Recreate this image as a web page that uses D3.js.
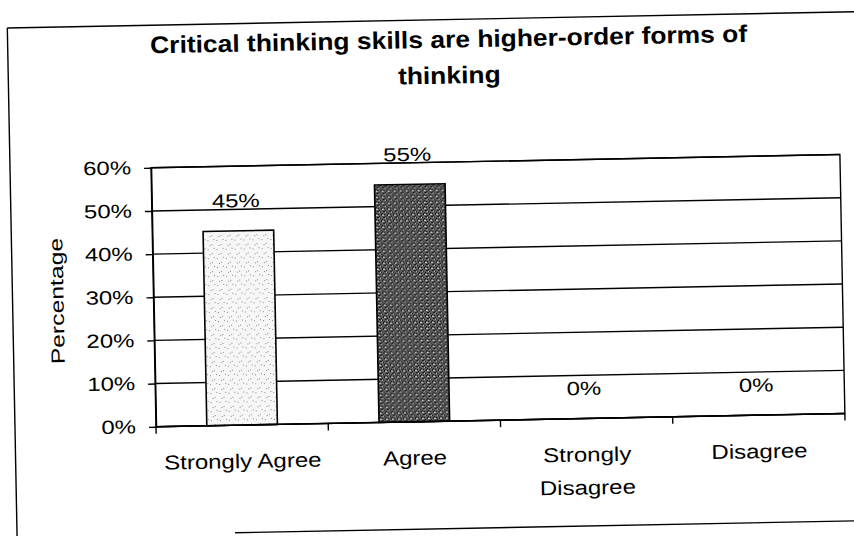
<!DOCTYPE html>
<html>
<head>
<meta charset="utf-8">
<script src="https://cdn.jsdelivr.net/npm/d3@7/dist/d3.min.js"></script>
<style>
  html, body { margin: 0; padding: 0; background: #fff; }
  svg { display: block; }
  text { font-family: "Liberation Sans", Arial, sans-serif; fill: #000; }
</style>
</head>
<body>
<svg id="chart" width="854" height="536"></svg>
<script>
// ---- data ----
const titleLines = ["Critical thinking skills are higher-order forms of", "thinking"];
const categories = ["Strongly Agree", "Agree", "Strongly Disagree", "Disagree"];
const categoryLines = [["Strongly Agree"], ["Agree"], ["Strongly", "Disagree"], ["Disagree"]];
const values = [0.45, 0.55, 0, 0];
const valueLabels = ["45%", "55%", "0%", "0%"];
const yTicks = [0, 0.1, 0.2, 0.3, 0.4, 0.5, 0.6];
const yTickLabels = ["0%", "10%", "20%", "30%", "40%", "50%", "60%"];
const yTitle = "Percentage";

// ---- layout ----
const W = 854, H = 536;
const plot = { left: 153, right: 842, top: 162.5, bottom: 421.5 };

const svg = d3.select("#chart");
svg.append("rect").attr("width", W).attr("height", H).attr("fill", "#fff");

// patterns for stippled bars
const defs = svg.append("defs");
const p1 = defs.append("pattern").attr("id", "lightDots").attr("patternUnits", "userSpaceOnUse")
  .attr("width", 9).attr("height", 9);
p1.append("rect").attr("width", 9).attr("height", 9).attr("fill", "#f6f6f6");
[[1,2],[5,6],[7,1],[3,7]].forEach(([x,y]) => p1.append("rect").attr("x", x).attr("y", y)
  .attr("width", 1).attr("height", 1).attr("fill", "#8a8a8a"));

const p2 = defs.append("pattern").attr("id", "darkDots").attr("patternUnits", "userSpaceOnUse")
  .attr("width", 6).attr("height", 6);
p2.append("rect").attr("width", 6).attr("height", 6).attr("fill", "#5e5e5e");
[[0,0],[3,1],[1,3],[4,4],[2,5],[5,2],[1,0],[4,3]].forEach(([x,y]) => p2.append("rect").attr("x", x).attr("y", y)
  .attr("width", 1).attr("height", 1).attr("fill", "#111"));
[[2,1],[5,4],[0,4]].forEach(([x,y]) => p2.append("rect").attr("x", x).attr("y", y)
  .attr("width", 1).attr("height", 1).attr("fill", "#d0d0d0"));
const barFills = ["url(#lightDots)", "url(#darkDots)", "#fff", "#fff"];

const g = svg.append("g").attr("transform", "rotate(-1.1,427,268)");

function stretch(sel, k) {
  sel.each(function () {
    const w = this.getComputedTextLength();
    d3.select(this).attr("textLength", w * k).attr("lengthAdjust", "spacingAndGlyphs");
  });
}

// outer chart-area border (scan shows left, top and part of the bottom)
g.append("line").attr("x1", 12).attr("y1", 20).attr("x2", 12).attr("y2", 560)
  .attr("stroke", "#000").attr("stroke-width", 1.4);
g.append("line").attr("x1", 12).attr("y1", 20).attr("x2", 890).attr("y2", 20)
  .attr("stroke", "#000").attr("stroke-width", 1.4);
g.append("line").attr("x1", 230).attr("y1", 529).attr("x2", 890).attr("y2", 529)
  .attr("stroke", "#000").attr("stroke-width", 1.4);

// title
const titleT = g.append("g").selectAll("text").data(titleLines).join("text")
  .attr("x", 453).attr("y", (d, i) => 48 + i * 36)
  .attr("text-anchor", "middle").attr("font-size", 24).attr("font-weight", "bold")
  .text(d => d);
stretch(titleT, 1.1);

// scales
const x = d3.scaleBand().domain(categories).range([plot.left, plot.right]).padding(0);
const y = d3.scaleLinear().domain([0, 0.6]).range([plot.bottom, plot.top]);
const barW = x.bandwidth() * 0.41;

// gridlines
g.append("g").selectAll("line").data(yTicks).join("line")
  .attr("x1", plot.left).attr("x2", plot.right)
  .attr("y1", d => y(d)).attr("y2", d => y(d))
  .attr("stroke", "#000").attr("stroke-width", 1.4);

// plot area border
g.append("rect").attr("x", plot.left).attr("y", plot.top)
  .attr("width", plot.right - plot.left).attr("height", plot.bottom - plot.top)
  .attr("fill", "none").attr("stroke", "#000").attr("stroke-width", 1.4);

// bars
g.append("g").selectAll("rect").data(values).join("rect")
  .attr("x", (d, i) => x(categories[i]) + (x.bandwidth() - barW) / 2)
  .attr("y", d => y(d))
  .attr("width", barW)
  .attr("height", d => y(0) - y(d))
  .attr("fill", (d, i) => barFills[i])
  .attr("stroke", "#000").attr("stroke-width", d => d > 0 ? 1.6 : 0);

// y axis
const yAxis = d3.axisLeft(y).tickValues(yTicks)
  .tickFormat((d, i) => yTickLabels[i]).tickSize(7).tickSizeOuter(0).tickPadding(13);
const yg = g.append("g").attr("transform", `translate(${plot.left},0)`).call(yAxis);
yg.select(".domain").attr("stroke", "#000").attr("stroke-width", 1.5);
yg.selectAll(".tick line").attr("stroke", "#000").attr("stroke-width", 1.4);
yg.selectAll(".tick text").attr("font-size", 19).attr("font-family", "Liberation Sans, Arial, sans-serif")
  .attr("fill", "#000").attr("dy", "0.3em");
stretch(yg.selectAll(".tick text"), 1.26);

// x axis: baseline + boundary ticks
g.append("line").attr("x1", plot.left).attr("x2", plot.right)
  .attr("y1", y(0)).attr("y2", y(0)).attr("stroke", "#000").attr("stroke-width", 1.5);
const bounds = categories.map(c => x(c)).concat([plot.right]);
g.append("g").selectAll("line").data(bounds).join("line")
  .attr("x1", d => d).attr("x2", d => d)
  .attr("y1", y(0)).attr("y2", y(0) + 7)
  .attr("stroke", "#000").attr("stroke-width", 1.4);

// category labels
const catG = g.append("g").selectAll("g").data(categoryLines).join("g")
  .attr("transform", (d, i) => `translate(${x(categories[i]) + x.bandwidth() / 2},${y(0) + 43})`);
const catT = catG.selectAll("text").data(d => d).join("text")
  .attr("x", 0).attr("y", (d, i) => i * 33)
  .attr("text-anchor", "middle").attr("font-size", 20)
  .text(d => d);
stretch(catT, 1.2);

// value labels
const valT = g.append("g").selectAll("text").data(values).join("text")
  .attr("x", (d, i) => x(categories[i]) + x.bandwidth() / 2 - 2)
  .attr("y", d => y(d) - 23.5)
  .attr("text-anchor", "middle").attr("font-size", 19)
  .text((d, i) => valueLabels[i]);
stretch(valT, 1.26);

// y axis title
const yt = g.append("text")
  .attr("transform", "translate(63,294) rotate(-90)")
  .attr("text-anchor", "middle").attr("font-size", 19)
  .text(yTitle);
stretch(yt, 1.3);
</script>
</body>
</html>
